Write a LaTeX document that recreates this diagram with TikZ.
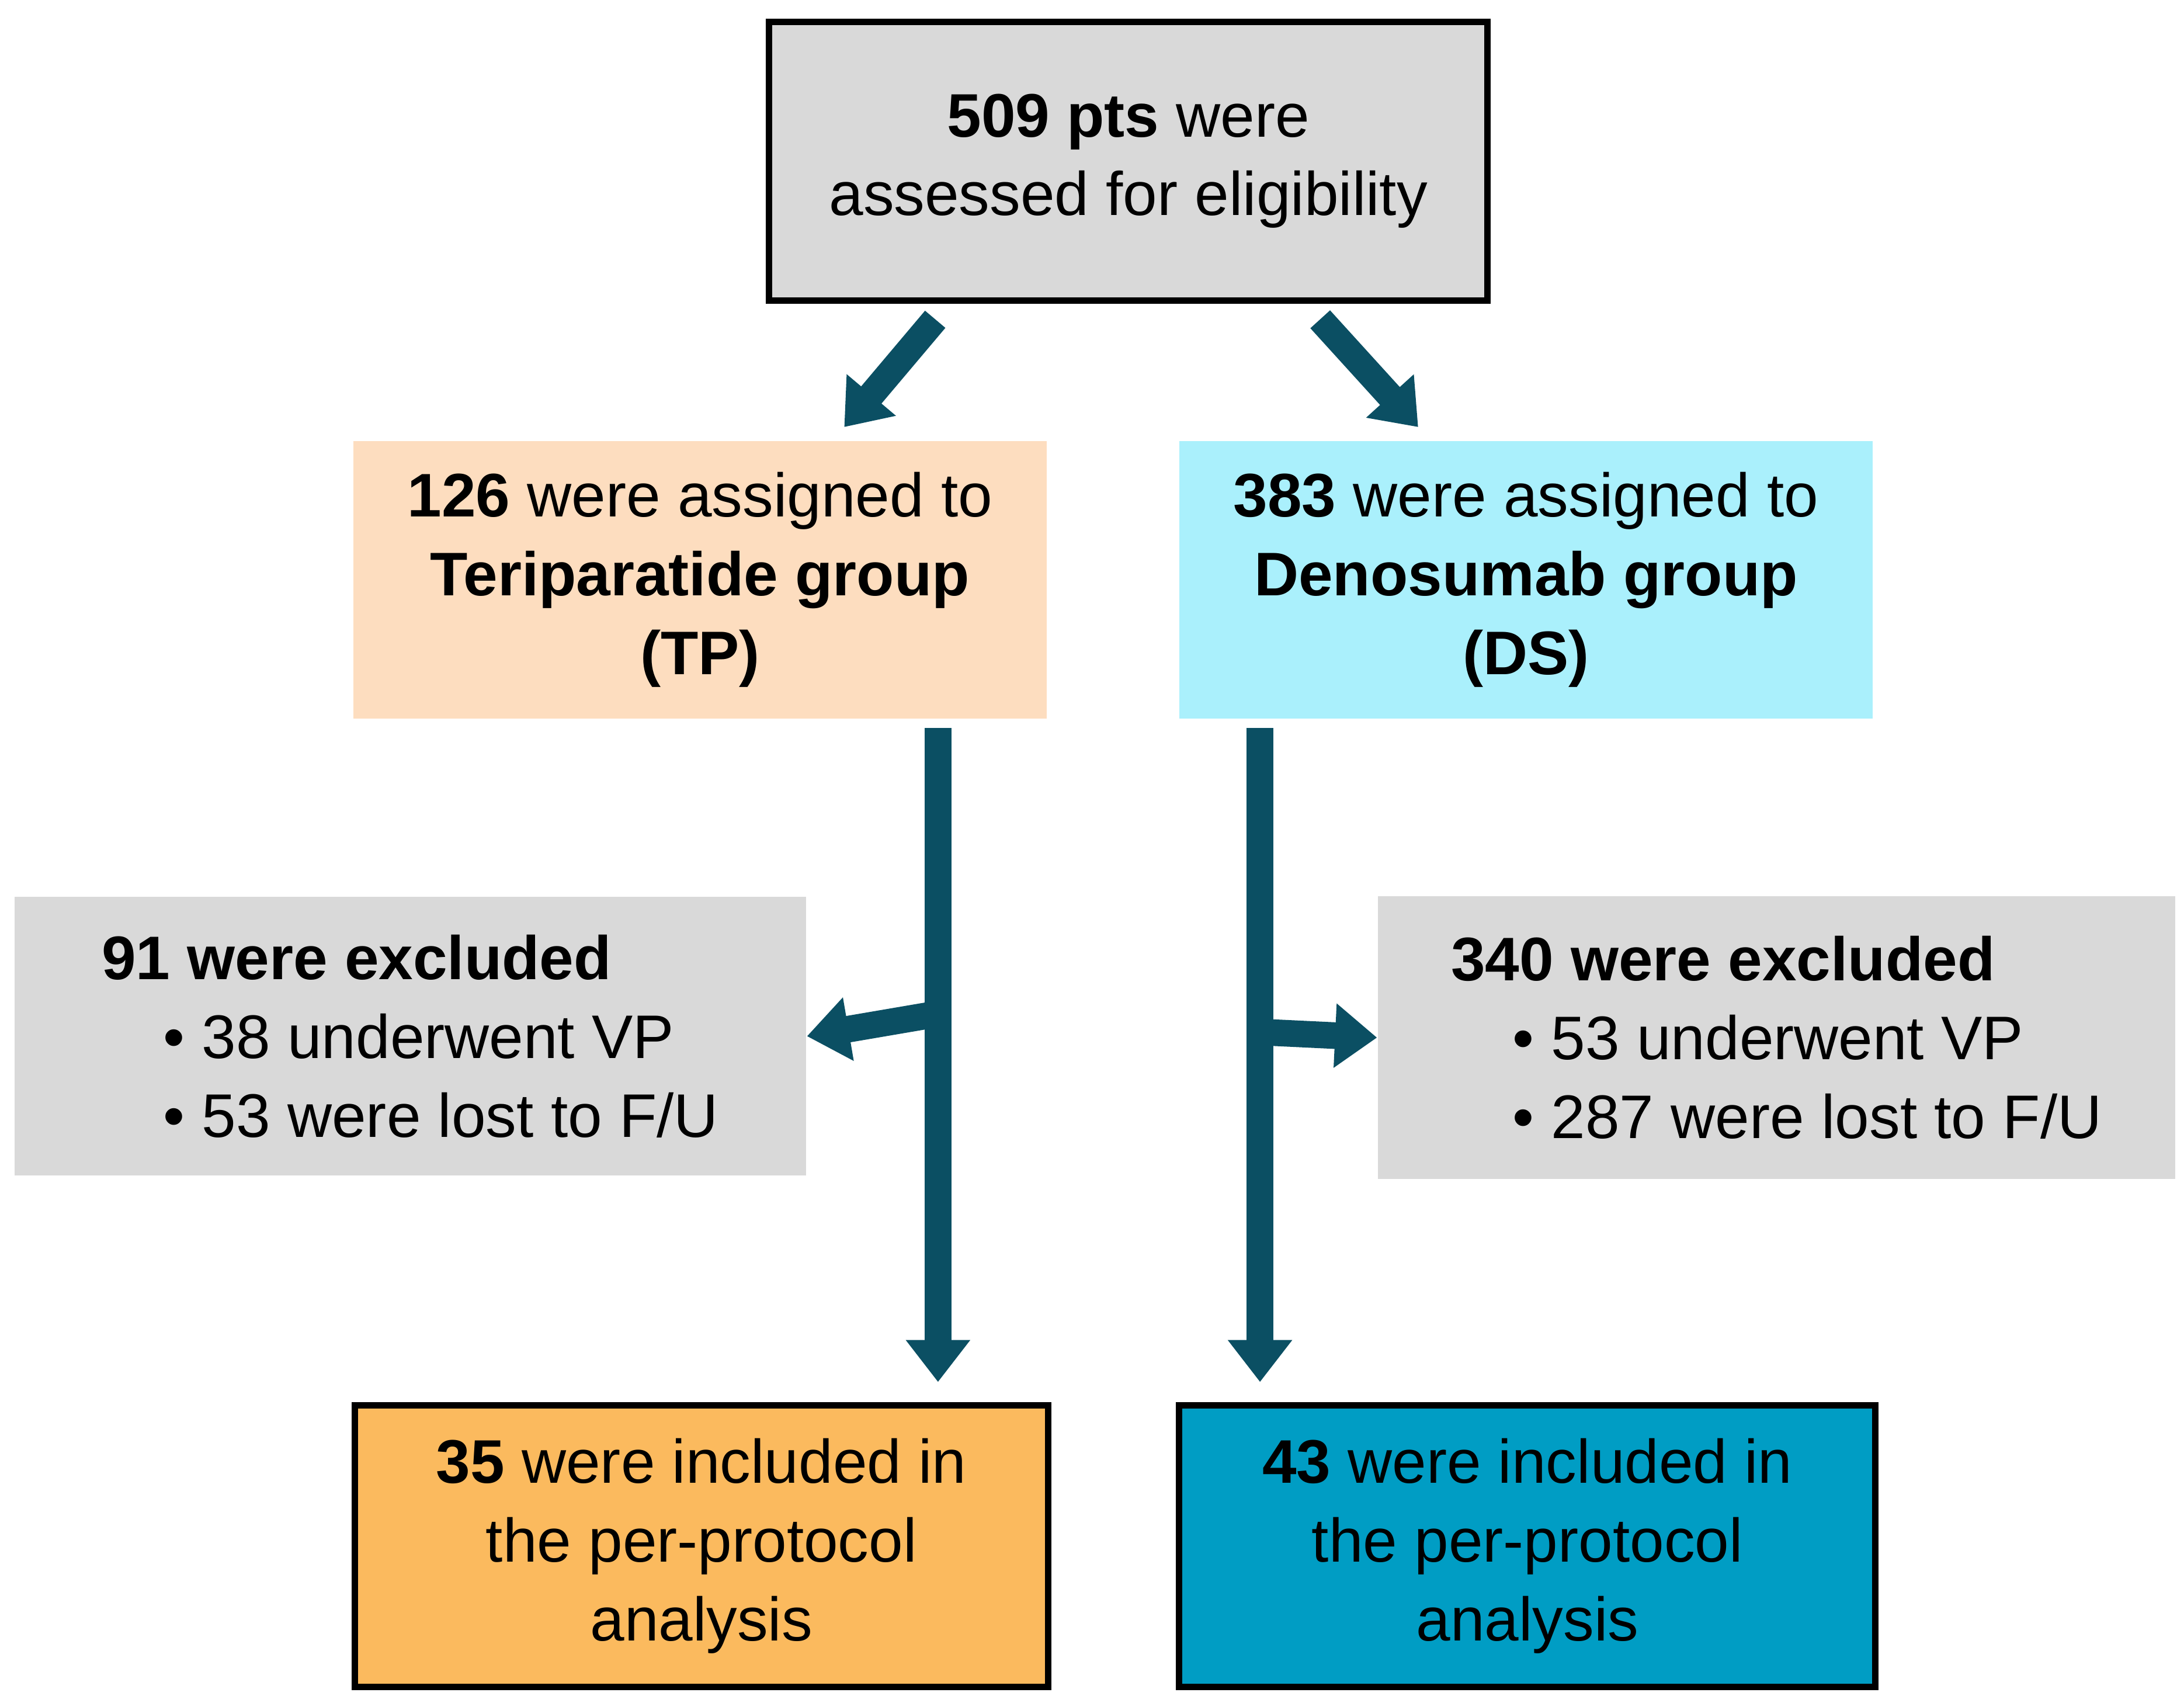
\documentclass[tikz,border=0pt]{standalone}
\usepackage{fontspec}
\setmainfont{Liberation Sans}
\usetikzlibrary{arrows.meta,positioning,calc}
\definecolor{boxgray}{HTML}{D9D9D9}
\definecolor{tppeach}{HTML}{FDDDBF}
\definecolor{dscyan}{HTML}{AAF0FC}
\definecolor{tporange}{HTML}{FBBA5E}
\definecolor{dsblue}{HTML}{009DC4}
\definecolor{flowteal}{HTML}{0B4F63}
\tikzset{
	box/.style={minimum width=4.95cm,minimum height=1.98cm,align=center,inner sep=0pt,font=\fontsize{12.5}{16}\selectfont},
	edged/.style={draw=black,line width=1.3pt},
	flow/.style={flowteal,line width=0.19cm,-{Triangle[width=0.44cm,length=0.3cm]}}
}
\begin{document}
\begin{tikzpicture}[x=0.01cm,y=-0.01cm]
	\useasboundingbox (0,0) rectangle (1560,1211);

	\node[box,edged,fill=boxgray,minimum width=5.13cm,minimum height=1.99cm] (start) at (806,115) {\textbf{509 pts} were\\assessed for eligibility};
	\node[box,fill=tppeach] (tp) at (500,414) {\textbf{126} were assigned to\\\textbf{Teriparatide group}\\\textbf{(TP)}};
	\node[box,fill=dscyan] (ds) at (1090,414) {\textbf{383} were assigned to\\\textbf{Denosumab group}\\\textbf{(DS)}};
	\node[box,fill=boxgray,minimum width=5.65cm,minimum height=1.99cm,align=left] (tpex) at (293,740) {\textbf{91 were excluded}\\\quad\textbullet\ 38 underwent VP\\\quad\textbullet\ 53 were lost to F/U};
	\node[box,fill=boxgray,minimum width=5.69cm,minimum height=2.02cm,align=left] (dsex) at (1269,741) {\textbf{340 were excluded}\\\quad\textbullet\ 53 underwent VP\\\quad\textbullet\ 287 were lost to F/U};
	\node[box,edged,fill=tporange,minimum height=2.01cm] (tpin) at (501,1104) {\textbf{35} were included in\\the per-protocol\\analysis};
	\node[box,edged,fill=dsblue,minimum width=4.97cm,minimum height=2.01cm] (dsin) at (1091,1104) {\textbf{43} were included in\\the per-protocol\\analysis};

	\coordinate (a1) at (668,228);
	\coordinate (a2) at (603,305);
	\coordinate (b1) at (943,228);
	\coordinate (b2) at (1013,305);
	\draw[flow] (a1) -- (a2);
	\draw[flow] (b1) -- (b2);

	\coordinate (tptop) at (670,520);
	\coordinate (tpbot) at (670,987);
	\coordinate (tpmid) at (670,724);
	\coordinate (dstop) at (900,520);
	\coordinate (dsbot) at (900,987);
	\coordinate (dsmid) at (900,737);
	\draw[flow] (tptop) -- (tpbot);
	\draw[flow] (dstop) -- (dsbot);
	\draw[flow] (tpmid) -- (tpex.east);
	\draw[flow] (dsmid) -- (dsex.west);
\end{tikzpicture}
\end{document}
